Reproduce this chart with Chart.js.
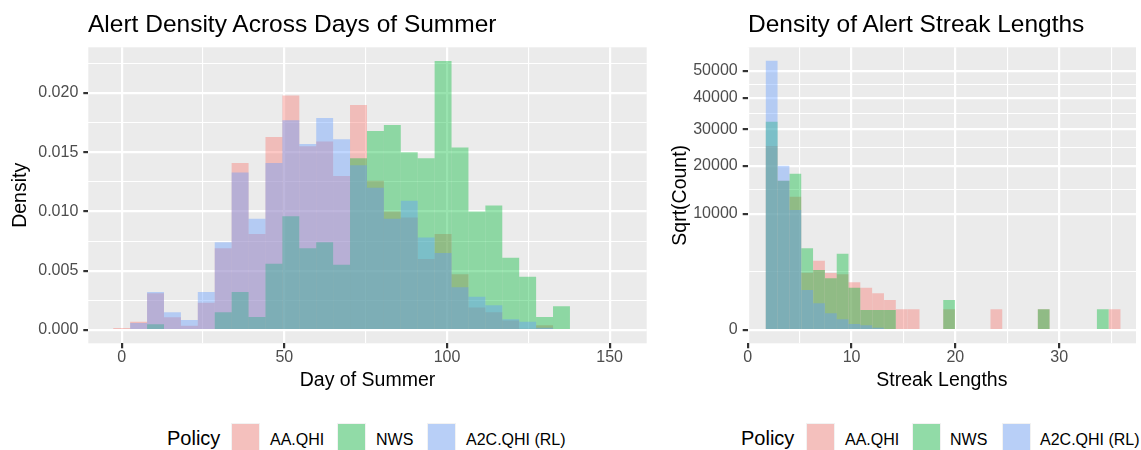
<!DOCTYPE html>
<html><head><meta charset="utf-8">
<script src="https://cdn.jsdelivr.net/npm/chart.js@4.4.1/dist/chart.umd.min.js"></script>
<style>
html,body{margin:0;padding:0;background:#fff;}
body{width:1141px;height:450px;position:relative;overflow:hidden;font-family:"Liberation Sans",Arial,sans-serif;}
canvas{position:absolute;top:0;}
.t{position:absolute;white-space:nowrap;color:#000;}
.title{font-size:24.5px;line-height:24px;top:11.8px;}
.lgtitle{font-size:20px;line-height:20px;top:428px;}
.lglab{font-size:16px;line-height:16px;top:431.5px;}
.key{position:absolute;top:423px;width:29px;height:29px;background:#F2F2F2;}
.key i{position:absolute;left:1px;top:1px;right:1px;bottom:1px;}
</style></head><body>
<canvas id="c1" width="660" height="400" style="left:0"></canvas>
<canvas id="c2" width="481" height="400" style="left:660px"></canvas>

<div class="t title" style="left:88px">Alert Density Across Days of Summer</div>
<div class="t title" style="left:748px">Density of Alert Streak Lengths</div>

<div class="t lgtitle" style="left:167px">Policy</div>
<div class="key" style="left:231px"><i style="background:rgba(248,118,109,0.4)"></i></div>
<div class="t lglab" style="left:270px">AA.QHI</div>
<div class="key" style="left:337px"><i style="background:rgba(0,186,56,0.4)"></i></div>
<div class="t lglab" style="left:376px">NWS</div>
<div class="key" style="left:427px"><i style="background:rgba(97,156,255,0.4)"></i></div>
<div class="t lglab" style="left:466px">A2C.QHI (RL)</div>

<div class="t lgtitle" style="left:741px">Policy</div>
<div class="key" style="left:806px"><i style="background:rgba(248,118,109,0.4)"></i></div>
<div class="t lglab" style="left:845px">AA.QHI</div>
<div class="key" style="left:912px"><i style="background:rgba(0,186,56,0.4)"></i></div>
<div class="t lglab" style="left:950px">NWS</div>
<div class="key" style="left:1002px"><i style="background:rgba(97,156,255,0.4)"></i></div>
<div class="t lglab" style="left:1040px">A2C.QHI (RL)</div>

<script>
// ---------- data ----------
const policies = ["AA.QHI", "NWS", "A2C.QHI (RL)"];

// Left panel: day-of-summer histogram (bin centres, density)
const dayBins = [0,5.2,10.4,15.6,20.8,26,31.2,36.4,41.6,46.8,52,57.2,62.4,67.6,72.8,78,83.2,88.4,93.6,98.8,104,109.2,114.4,119.6,124.8,130,135.2,140.4,145.6,150.8];
const densityAA  = [0.00017,0.0007,0.0031,0.00107,0.00036,0.0023,0.0069,0.0141,0.0081,0.0163,0.0198,0.0155,0.0159,0.0130,0.0190,0.0126,0.0100,0.0095,0.0060,0.0081,0.0047,0.0019,0.0015,0.0008,0.0001,0.0004,0,0,0,0];
const densityNWS = [0,0,0.00048,0,0,0,0.0015,0.0032,0.0011,0.0056,0.0096,0.0069,0.0074,0.0055,0.0145,0.0168,0.0173,0.0150,0.0145,0.0227,0.0154,0.0100,0.0105,0.0061,0.0045,0.0011,0.0020,0,0,0];
const densityA2C = [0,0.0006,0.0032,0.0015,0.00084,0.0032,0.0074,0.0133,0.0094,0.0141,0.0177,0.0157,0.0179,0.0161,0.0139,0.0120,0.0094,0.0109,0.0078,0.0065,0.0036,0.0028,0.0021,0.0009,0.0007,0.0002,0,0,0,0];
const dayMajorTicks = [0,50,100,150];
const dayMinorTicks = [25,75,125];
const densMajorTicks = [0,0.005,0.010,0.015,0.020];
const densMinorTicks = [0.0025,0.0075,0.0125,0.0175,0.0225];

// Right panel: streak-length histogram (bin centres, counts on sqrt axis)
const streakBins = [2.31,3.45,4.59,5.73,6.87,8.01,9.14,10.28,11.42,12.56,13.70,14.84,15.98,17.12,18.26,19.40,20.53,21.67,22.81,23.95,25.09,26.23,27.37,28.51,29.65,30.79,31.92,33.06,34.20,35.34];
const countsAA  = [25160,16570,13210,2443,3572,2414,2303,1689,1332,999,669,317,317,0,0,317,0,0,0,317,0,0,0,317,0,0,0,0,0,317];
const countsNWS = [32260,16570,18160,4956,2675,1984,4330,1332,297,297,297,0,0,0,0,669,0,0,0,0,0,0,0,317,0,0,0,0,317,0];
const countsA2C = [53900,20070,10700,1189,528,206,85,27,16,4,0,0,0,0,0,0,0,0,0,0,0,0,0,0,0,0,0,0,0,0];
const streakMajorTicks = [0,10,20,30];
const streakMinorTicks = [5,15,25,35];
const countMajorTicks = [0,10000,20000,30000,40000,50000];
const countMinorTicks = [2500,14571,24747,34820,44861];

// ---------- chart setup ----------
const FONT = '"Liberation Sans", Arial, sans-serif';
Chart.defaults.font.family = FONT;
const COLORS = ['rgba(248,118,109,0.4)','rgba(0,186,56,0.4)','rgba(97,156,255,0.4)'];

function ssqrt(v){ return Math.sign(v) * Math.sqrt(Math.abs(v)); }
class SqrtScale extends Chart.LinearScale {
  static id = 'sqrt';
  static defaults = {};
  configure() {
    super.configure();
    this._sqStart = ssqrt(this.min);
    this._sqEnd = ssqrt(this.max);
  }
  getPixelForValue(value) {
    if (value === null || value === undefined || isNaN(value)) return NaN;
    return this.getPixelForDecimal((ssqrt(value) - this._sqStart) / (this._sqEnd - this._sqStart));
  }
  getValueForPixel(pixel) {
    const t = this._sqStart + this.getDecimalForPixel(pixel) * (this._sqEnd - this._sqStart);
    return Math.sign(t) * t * t;
  }
}
Chart.register(SqrtScale);

const panelBg = {
  id: 'panelBg',
  beforeDraw(chart) {
    const {ctx, chartArea: a} = chart;
    ctx.save();
    ctx.fillStyle = '#EBEBEB';
    ctx.fillRect(a.left, a.top, a.right - a.left, a.bottom - a.top);
    ctx.restore();
  }
};

function tickList(majors, minors) {
  return majors.map(v => ({value: v}))
    .concat(minors.map(v => ({value: v, minor: true})))
    .sort((a, b) => a.value - b.value);
}
function grid() {
  return {
    color: '#FFFFFF',
    lineWidth: c => (c.tick && c.tick.minor) ? 1.1 : 2.2,
    drawTicks: true,
    tickLength: 5,
    tickColor: c => (c.tick && c.tick.minor) ? 'rgba(0,0,0,0)' : '#333333',
    tickWidth: 2.2,
    offset: false,
  };
}
function axis(opts) {
  const horiz = opts.horiz;
  return {
    type: opts.type || 'linear',
    min: opts.min, max: opts.max,
    offset: false,
    grid: grid(),
    border: {display: false},
    afterBuildTicks: s => { s.ticks = tickList(opts.majors, opts.minors); },
    afterFit: s => { if (horiz) s.height = opts.size; else s.width = opts.size; },
    ticks: {
      color: '#4D4D4D',
      font: {size: 16},
      padding: horiz ? 0 : 5,
      autoSkip: false,
      maxRotation: 0,
      minRotation: 0,
      callback: (v, i, ts) => ts[i].minor ? '' : opts.fmt(v)
    },
    title: {
      display: true, text: opts.title, color: '#000000',
      font: {size: 19.5},
      padding: horiz ? {top: 0, bottom: 7.3} : {top: 9.2, bottom: 0}
    }
  };
}
function dataset(label, xs, ys, color, order) {
  return {
    label,
    data: xs.map((x, i) => ({x: x, y: ys[i]})),
    backgroundColor: color,
    borderWidth: 0,
    inflateAmount: 0,
    grouped: false,
    barPercentage: 1,
    categoryPercentage: 1,
    order
  };
}
function makeChart(id, xs, series, xAxis, yAxis, padRight) {
  return new Chart(document.getElementById(id), {
    type: 'bar',
    data: {
      datasets: series.map((ys, k) => dataset(policies[k], xs, ys, COLORS[k], 3 - k))
    },
    options: {
      responsive: false,
      animation: false,
      events: [],
      layout: {padding: {top: 47.3, right: padRight, left: 0, bottom: 0}},
      plugins: {legend: {display: false}, tooltip: {enabled: false}, title: {display: false}},
      scales: {x: xAxis, y: yAxis}
    },
    plugins: [panelBg]
  });
}

makeChart('c1', dayBins, [densityAA, densityNWS, densityA2C],
  axis({horiz: true, min: -10.27, max: 161.4, majors: dayMajorTicks, minors: dayMinorTicks,
        size: 56.7, title: 'Day of Summer', fmt: v => String(v)}),
  axis({horiz: false, min: -0.00112, max: 0.02386, majors: densMajorTicks, minors: densMinorTicks,
        size: 88.3, title: 'Density', fmt: v => v.toFixed(3)}),
  13.3);

makeChart('c2', streakBins, [countsAA, countsNWS, countsA2C],
  axis({horiz: true, min: 0, max: 37.4, majors: streakMajorTicks, minors: streakMinorTicks,
        size: 56.7, title: 'Streak Lengths', fmt: v => String(v)}),
  axis({horiz: false, type: 'sqrt', min: -131.5, max: 59430, majors: countMajorTicks, minors: countMinorTicks,
        size: 87.7, title: 'Sqrt(Count)', fmt: v => String(v)}),
  5);
</script>
</body></html>
